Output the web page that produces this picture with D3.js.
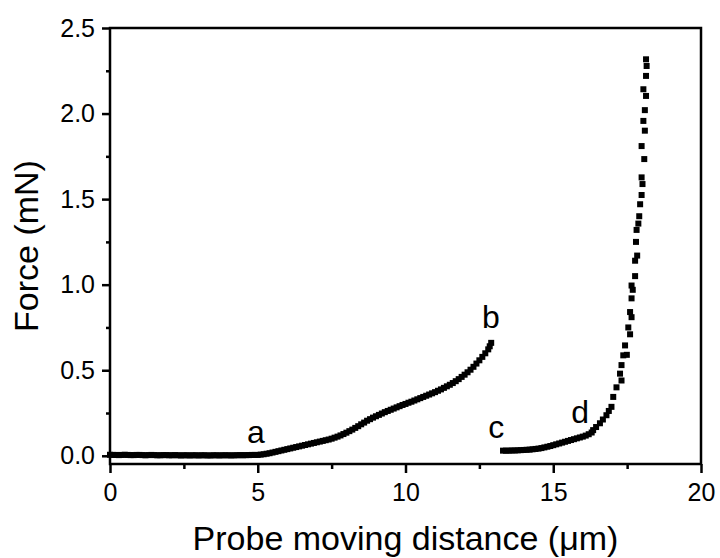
<!DOCTYPE html>
<html>
<head>
<meta charset="utf-8">
<script src="https://cdn.jsdelivr.net/npm/d3@7/dist/d3.min.js"></script>
<style>
  html, body { margin: 0; padding: 0; background: #fff; }
  svg { display: block; }
  text { font-family: "Liberation Sans", Arial, sans-serif; fill: #000; }
</style>
</head>
<body>
<svg id="chart" width="720" height="558"></svg>
<script>
// Approach curve a -> b (probe distance in µm, force in mN)
const distance1 = [
  0.0, 0.1, 0.2, 0.3, 0.4, 0.5, 0.6, 0.7, 0.8, 0.9,
  1.0, 1.1, 1.2, 1.3, 1.4, 1.5, 1.6, 1.7, 1.8, 1.9,
  2.0, 2.1, 2.2, 2.3, 2.4, 2.5, 2.6, 2.7, 2.8, 2.9,
  3.0, 3.1, 3.2, 3.3, 3.4, 3.5, 3.6, 3.7, 3.8, 3.9,
  4.0, 4.1, 4.2, 4.3, 4.4, 4.5, 4.6, 4.7, 4.8, 4.9,
  5.0, 5.1, 5.2, 5.3, 5.4, 5.5, 5.6, 5.7, 5.8, 5.9,
  6.0, 6.1, 6.2, 6.3, 6.4, 6.5, 6.6, 6.7, 6.8, 6.9,
  7.0, 7.1, 7.2, 7.3, 7.4, 7.5, 7.6, 7.7, 7.8, 7.9,
  8.0, 8.1, 8.2, 8.3, 8.4, 8.5, 8.6, 8.7, 8.8, 8.9,
  9.0, 9.1, 9.2, 9.3, 9.4, 9.5, 9.6, 9.7, 9.8, 9.9,
  10.0, 10.1, 10.2, 10.3, 10.4, 10.5, 10.6, 10.7, 10.8, 10.9,
  11.0, 11.1, 11.2, 11.3, 11.4, 11.5, 11.6, 11.7, 11.8, 11.9,
  12.0, 12.1, 12.2, 12.3, 12.4, 12.5, 12.6, 12.7, 12.8, 12.85, 12.9
];
const force1 = [
  0.006, 0.005, 0.005, 0.004, 0.005, 0.006, 0.005, 0.004, 0.004, 0.005,
  0.005, 0.004, 0.003, 0.004, 0.005, 0.004, 0.003, 0.003, 0.004, 0.004,
  0.003, 0.003, 0.004, 0.003, 0.002, 0.003, 0.003, 0.002, 0.003, 0.003,
  0.002, 0.003, 0.003, 0.002, 0.002, 0.003, 0.003, 0.002, 0.003, 0.003,
  0.003, 0.002, 0.003, 0.003, 0.004, 0.003, 0.004, 0.004, 0.005, 0.005,
  0.005, 0.007, 0.009, 0.012, 0.015, 0.019, 0.023, 0.027, 0.031, 0.035,
  0.039, 0.043, 0.047, 0.051, 0.055, 0.059, 0.063, 0.067, 0.071, 0.075,
  0.079, 0.083, 0.087, 0.091, 0.095, 0.100, 0.106, 0.112, 0.119, 0.127,
  0.135, 0.144, 0.153, 0.163, 0.173, 0.184, 0.194, 0.205, 0.214, 0.223,
  0.231, 0.239, 0.247, 0.255, 0.262, 0.269, 0.276, 0.283, 0.290, 0.297,
  0.303, 0.310, 0.316, 0.323, 0.330, 0.337, 0.344, 0.351, 0.358, 0.365,
  0.372, 0.380, 0.388, 0.397, 0.406, 0.415, 0.425, 0.436, 0.448, 0.461,
  0.474, 0.488, 0.503, 0.520, 0.539, 0.558, 0.578, 0.599, 0.622, 0.640, 0.660
];

// Loading curve c -> d and beyond
const distance2 = [
  13.3, 13.4, 13.5, 13.6, 13.7, 13.8, 13.9, 14.0, 14.1, 14.2,
  14.3, 14.4, 14.5, 14.6, 14.7, 14.8, 14.9, 15.0, 15.1, 15.2,
  15.3, 15.4, 15.5, 15.6, 15.7, 15.8, 15.9, 16.0, 16.1, 16.2,
  16.3, 16.35, 16.45, 16.58, 16.68, 16.8, 16.88, 16.97, 17.03, 17.14,
  17.31, 17.26, 17.31, 17.37, 17.49, 17.43, 17.60, 17.54, 17.65, 17.60,
  17.65, 17.69, 17.65, 17.77, 17.77, 17.84, 17.80, 17.82, 17.88, 17.91,
  17.94, 17.99, 18.02, 17.99, 18.08, 17.99, 18.10, 18.05, 18.10, 18.14,
  18.05, 18.14, 18.16, 18.14
];
const force2 = [
  0.030, 0.030, 0.030, 0.031, 0.031, 0.032, 0.033, 0.034, 0.035, 0.036,
  0.038, 0.040, 0.042, 0.045, 0.049, 0.053, 0.057, 0.062, 0.067, 0.072,
  0.077, 0.082, 0.087, 0.092, 0.097, 0.102, 0.107, 0.112, 0.118, 0.126,
  0.136, 0.150, 0.168, 0.190, 0.212, 0.237, 0.262, 0.286, 0.344, 0.400,
  0.440, 0.480, 0.530, 0.587, 0.590, 0.645, 0.710, 0.750, 0.810, 0.840,
  0.920, 0.970, 0.995, 1.050, 1.140, 1.170, 1.250, 1.320, 1.357, 1.400,
  1.470, 1.524, 1.588, 1.627, 1.734, 1.810, 1.900, 1.957, 2.020, 2.103,
  2.142, 2.220, 2.278, 2.317
];

// Axis ticks
const xTicksMajor = [0, 5, 10, 15, 20];
const xTicksMinor = [2.5, 7.5, 12.5, 17.5];
const yTicksMajor = [0.0, 0.5, 1.0, 1.5, 2.0, 2.5];
const yTicksMinor = [0.25, 0.75, 1.25, 1.75, 2.25];

// Point annotations
const markLabels = ["a", "b", "c", "d"];
const markX = [4.94, 12.89, 13.07, 15.91];
const markY = [0.074, 0.745, 0.103, 0.191];

const svg = d3.select("#chart");
const margin = { left: 110, top: 28, right: 19, bottom: 94 };
const W = 720, H = 558;

const x = d3.scaleLinear().domain([0, 20]).range([margin.left, W - margin.right]);
const y = d3.scaleLinear().domain([-0.048, 2.5]).range([H - margin.bottom, margin.top]);

const x0 = margin.left, x1 = W - margin.right, y0 = H - margin.bottom, y1 = margin.top;

// Data markers (small filled squares)
const ms = 6;
const pts1 = distance1.map((d, i) => [d, force1[i]]);
const pts2 = distance2.map((d, i) => [d, force2[i]]);
const gData = svg.append("g");
[pts1, pts2].forEach(pts => {
  gData.selectAll(null).data(pts).enter().append("rect")
    .attr("x", d => x(d[0]) - ms / 2)
    .attr("y", d => y(d[1]) - ms / 2)
    .attr("width", ms).attr("height", ms)
    .attr("fill", "#000");
});

// Bottom axis
svg.append("g").attr("transform", `translate(0,${y0})`)
  .call(d3.axisBottom(x).tickValues(xTicksMajor).tickSize(9).tickPadding(10).tickFormat(d3.format("d")));
svg.append("g").attr("transform", `translate(0,${y0})`)
  .call(d3.axisBottom(x).tickValues(xTicksMinor).tickSize(5).tickFormat(""));

// Left axis
svg.append("g").attr("transform", `translate(${x0},0)`)
  .call(d3.axisLeft(y).tickValues(yTicksMajor).tickSize(8).tickPadding(7).tickFormat(d3.format(".1f")));
svg.append("g").attr("transform", `translate(${x0},0)`)
  .call(d3.axisLeft(y).tickValues(yTicksMinor).tickSize(4).tickFormat(""));

svg.selectAll(".tick line").attr("stroke", "#000").attr("stroke-width", 2.5);
svg.selectAll(".domain").remove();
svg.selectAll(".tick text").style("font-size", "25px").attr("fill", "#000");

// Frame
svg.append("rect")
  .attr("x", x0).attr("y", y1)
  .attr("width", x1 - x0).attr("height", y0 - y1)
  .attr("fill", "none").attr("stroke", "#000").attr("stroke-width", 2.5);

// Axis titles
svg.append("text")
  .attr("x", (x0 + x1) / 2).attr("y", 550)
  .attr("text-anchor", "middle").style("font-size", "34px")
  .text("Probe moving distance (μm)");
svg.append("text")
  .attr("transform", `translate(38,${(y0 + y1) / 2}) rotate(-90)`)
  .attr("text-anchor", "middle").style("font-size", "34px")
  .text("Force (mN)");

// Curve annotations
svg.append("g").selectAll("text").data(markLabels).enter().append("text")
  .attr("x", (d, i) => x(markX[i]))
  .attr("y", (d, i) => y(markY[i]))
  .attr("text-anchor", "middle").style("font-size", "32px")
  .text(d => d);
</script>
</body>
</html>
